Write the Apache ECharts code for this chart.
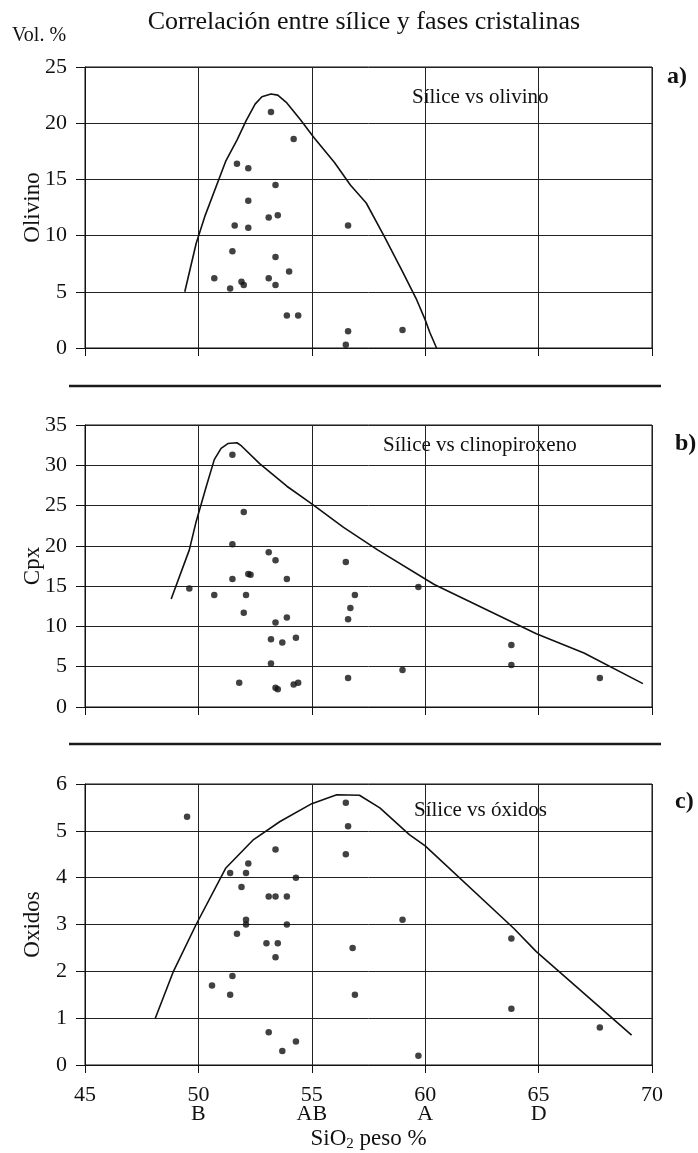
<!DOCTYPE html>
<html>
<head>
<meta charset="utf-8">
<script src="https://cdn.jsdelivr.net/npm/echarts@6/dist/echarts.min.js"></script>
<style>
  html, body { margin: 0; padding: 0; background: #fff; }
  #chart { width: 698px; height: 1153px; }
</style>
</head>
<body>
<div id="chart"></div>
<script>
// SiO2 (wt %) and modal volume % for each sample, per mineral phase
const olivSiO2 = [53.2, 54.2, 51.7, 52.2, 53.4, 52.2, 53.1, 53.5, 51.6, 52.2, 56.6, 51.5, 53.4, 54.0, 50.7, 53.1, 51.9, 52.0, 53.4, 51.4, 53.9, 54.4, 56.6, 59.0, 56.5];
const olivVol  = [21.0, 18.6, 16.4, 16.0, 14.5, 13.1, 11.6, 11.8, 10.9, 10.7, 10.9, 8.6, 8.1, 6.8, 6.2, 6.2, 5.9, 5.6, 5.6, 5.3, 2.9, 2.9, 1.5, 1.6, 0.3];

const cpxSiO2 = [51.5, 52.0, 51.5, 53.1, 53.4, 56.5, 52.2, 52.3, 51.5, 53.9, 49.6, 59.7, 50.7, 52.1, 56.9, 52.0, 53.9, 56.7, 56.6, 53.4, 53.2, 53.7, 54.3, 53.2, 59.0, 51.8, 56.6, 53.4, 53.5, 54.2, 54.4, 63.8, 63.8, 67.7];
const cpxVol  = [31.3, 24.2, 20.2, 19.2, 18.2, 18.0, 16.5, 16.4, 15.9, 15.9, 14.7, 14.9, 13.9, 13.9, 13.9, 11.7, 11.1, 12.3, 10.9, 10.5, 8.4, 8.0, 8.6, 5.4, 4.6, 3.0, 3.6, 2.4, 2.2, 2.8, 3.0, 7.7, 5.2, 3.6];

const oxSiO2 = [49.5, 56.5, 56.6, 56.5, 53.4, 52.2, 51.4, 52.1, 54.3, 51.9, 53.1, 53.4, 53.9, 52.1, 52.1, 53.9, 59.0, 51.7, 53.0, 53.5, 53.4, 56.8, 50.6, 51.5, 51.4, 56.9, 53.1, 53.7, 54.3, 59.7, 63.8, 63.8, 67.7];
const oxVol  = [5.3, 5.6, 5.1, 4.5, 4.6, 4.3, 4.1, 4.1, 4.0, 3.8, 3.6, 3.6, 3.6, 3.1, 3.0, 3.0, 3.1, 2.8, 2.6, 2.6, 2.3, 2.5, 1.7, 1.9, 1.5, 1.5, 0.7, 0.3, 0.5, 0.2, 2.7, 1.2, 0.8];

// Upper envelopes drawn over each cloud of samples
const olivEnvSiO2 = [49.4, 49.9, 50.3, 51.2, 51.7, 52.1, 52.5, 52.8, 53.2, 53.5, 53.9, 54.5, 55.1, 56.0, 56.7, 57.4, 58.2, 59.0, 59.6, 60.0, 60.2, 60.5];
const olivEnvVol  = [5.0, 9.3, 11.8, 16.6, 18.5, 20.2, 21.7, 22.35, 22.6, 22.5, 21.8, 20.3, 18.7, 16.5, 14.5, 12.9, 9.9, 6.8, 4.4, 2.5, 1.4, 0];

const cpxEnvSiO2 = [48.8, 49.6, 49.9, 50.35, 50.7, 51.0, 51.3, 51.7, 51.9, 52.7, 53.9, 55.0, 56.4, 57.9, 60.4, 64.9, 67.0, 69.6];
const cpxEnvVol  = [13.4, 19.5, 23.0, 27.4, 30.7, 32.1, 32.7, 32.8, 32.4, 30.2, 27.4, 25.2, 22.3, 19.5, 15.2, 9.1, 6.7, 2.9];

const oxEnvSiO2 = [48.1, 48.9, 49.9, 51.2, 52.4, 53.6, 55.0, 56.1, 57.1, 58.0, 59.3, 60.0, 63.9, 64.9, 69.1];
const oxEnvVol  = [1.0, 2.0, 3.0, 4.2, 4.8, 5.2, 5.58, 5.77, 5.76, 5.49, 4.92, 4.68, 2.92, 2.42, 0.64];

// Rock-type codes printed under the SiO2 ticks
const sio2Ticks = [45, 50, 55, 60, 65, 70];
const rockCodes = ['', 'B', 'AB', 'A', 'D', ''];

const yMax = [25, 35, 6];
const yStep = [5, 5, 1];
const yNames = ['Olivino', 'Cpx', 'Oxidos'];
const panelTags = ['a)', 'b)', 'c)'];
const panelTitles = ['Sílice vs olivino', 'Sílice vs clinopiroxeno', 'Sílice vs óxidos'];

const zip = (xs, ys) => xs.map((x, i) => [x, ys[i]]);

const SERIF = "'Liberation Serif', 'Times New Roman', serif";
const INK = '#111';

const grids = [
  { left: 85, right: 46, top: 67, height: 281 },
  { left: 85, right: 46, top: 425, height: 282 },
  { left: 85, right: 46, top: 784, height: 281 }
].map(g => Object.assign(g, { show: true, borderColor: INK, borderWidth: 1, containLabel: false }));

const xAxes = [0, 1, 2].map(i => ({
  type: 'value', gridIndex: i, min: 45, max: 70, interval: 5,
  axisLine: { show: true, lineStyle: { color: INK, width: 1 } },
  axisTick: { show: true, length: 8, lineStyle: { color: INK } },
  splitLine: { show: true, lineStyle: { color: '#222', width: 1 } },
  axisLabel: {
    show: i === 2, margin: 21, color: INK, fontFamily: SERIF, fontSize: 22, lineHeight: 19,
    formatter: v => {
      const k = sio2Ticks.indexOf(v);
      return k >= 0 && rockCodes[k] ? v + '\n' + rockCodes[k] : String(v);
    }
  },
  name: i === 2 ? 'SiO{s|2} peso %' : '',
  nameLocation: 'middle', nameGap: 60,
  nameTextStyle: {
    color: INK, fontFamily: SERIF, fontSize: 23,
    rich: { s: { fontFamily: SERIF, fontSize: 15, verticalAlign: 'bottom', padding: [12, 0, 0, 0] } }
  }
}));

const yAxes = [0, 1, 2].map(i => ({
  type: 'value', gridIndex: i, min: 0, max: yMax[i], interval: yStep[i],
  axisLine: { show: true, lineStyle: { color: INK, width: 1 } },
  axisTick: { show: true, length: 9, lineStyle: { color: INK } },
  splitLine: { show: true, lineStyle: { color: '#222', width: 1 } },
  axisLabel: { margin: 18, color: INK, fontFamily: SERIF, fontSize: 22 },
  name: yNames[i], nameLocation: 'middle', nameGap: 41, nameRotate: 90,
  nameMoveOverlap: false,
  nameTextStyle: { color: INK, fontFamily: SERIF, fontSize: 23 }
}));

const envelope = (i, xs, ys) => ({
  type: 'line', xAxisIndex: i, yAxisIndex: i, data: zip(xs, ys),
  showSymbol: false, symbol: 'none', smooth: false,
  lineStyle: { color: INK, width: 1.6 }, z: 3, silent: true
});
const samples = (i, xs, ys) => ({
  type: 'scatter', xAxisIndex: i, yAxisIndex: i, data: zip(xs, ys),
  symbol: 'circle', symbolSize: 6.5, itemStyle: { color: INK }, z: 4
});

const txt = (text, x, y, font, extra) => ({
  type: 'text', x: x, y: y, silent: true,
  style: Object.assign({ text: text, fill: INK, font: font,
    textAlign: 'left', textVerticalAlign: 'middle' }, extra || {})
});
const rule = y => ({
  type: 'line', silent: true,
  shape: { x1: 69, y1: y, x2: 661, y2: y },
  style: { stroke: '#1a1a1a', lineWidth: 2.5 }
});

const chart = echarts.init(document.getElementById('chart'), null, { renderer: 'canvas' });
chart.setOption({
  backgroundColor: '#fff',
  animation: false,
  grid: grids,
  xAxis: xAxes,
  yAxis: yAxes,
  series: [
    envelope(0, olivEnvSiO2, olivEnvVol), samples(0, olivSiO2, olivVol),
    envelope(1, cpxEnvSiO2, cpxEnvVol), samples(1, cpxSiO2, cpxVol),
    envelope(2, oxEnvSiO2, oxEnvVol), samples(2, oxSiO2, oxVol)
  ],
  graphic: [
    txt('Correlación entre sílice y fases cristalinas', 364, 22, '26px ' + SERIF, { textAlign: 'center' }),
    txt('Vol. %', 12, 36, '20px ' + SERIF),
    rule(386), rule(744),
    txt(panelTitles[0], 412, 97, '21px ' + SERIF),
    txt(panelTitles[1], 383, 445, '21px ' + SERIF),
    txt(panelTitles[2], 414, 810, '21px ' + SERIF),
    txt(panelTags[0], 667, 77, 'bold 24px ' + SERIF),
    txt(panelTags[1], 675, 444, 'bold 24px ' + SERIF),
    txt(panelTags[2], 675, 802, 'bold 24px ' + SERIF)
  ]
});
</script>
</body>
</html>
